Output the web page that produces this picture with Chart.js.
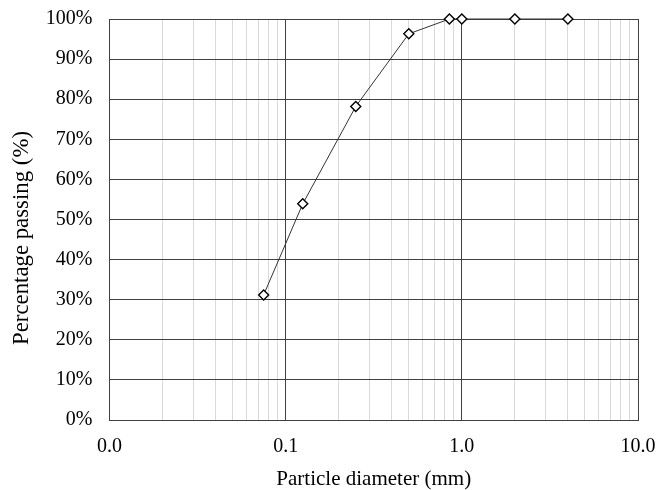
<!DOCTYPE html>
<html>
<head>
<meta charset="utf-8">
<script src="https://cdn.jsdelivr.net/npm/chart.js@4"></script>
<style>
  html, body { margin: 0; padding: 0; background: #fff; }
  #wrap { width: 659px; height: 490px; }
</style>
</head>
<body>
<div id="wrap"><canvas id="gradationChart" width="659" height="490"></canvas></div>
<script>
// sieve sizes (mm) and percentage passing
const sieveSizes = [0.075, 0.125, 0.25, 0.5, 0.85, 1.0, 2.0, 4.0];
const passing = [31.2, 53.9, 78.2, 96.3, 100, 100, 100, 100];

// log axis: decades get a label, 2..9 of each decade only a light gridline
const decades = [0.01, 0.1, 1, 10];
const minorSteps = [2, 3, 4, 5, 6, 7, 8, 9];
const yTicks = [0, 10, 20, 30, 40, 50, 60, 70, 80, 90, 100];

const xTitle = 'Particle diameter (mm)';
const yTitle = 'Percentage passing (%)';

const fontFamily = "'Liberation Serif', 'Times New Roman', serif";

function isDecade(v) {
    const l = Math.log10(v);
    return Math.abs(l - Math.round(l)) < 1e-6;
}

const gridValues = [];
decades.forEach((d, i) => {
    gridValues.push(d);
    if (i < decades.length - 1) {
        minorSteps.forEach(m => gridValues.push(+(d * m).toPrecision(3)));
    }
});

// y axis title sits a bit below the middle of the plot, drawn by hand
const yTitlePlugin = {
    id: 'yTitle',
    afterDraw(chart) {
        const ctx = chart.ctx;
        ctx.save();
        ctx.font = '22.8px ' + fontFamily;
        ctx.fillStyle = '#000';
        ctx.textAlign = 'center';
        ctx.textBaseline = 'middle';
        ctx.translate(22, 238);
        ctx.rotate(-Math.PI / 2);
        ctx.fillText(yTitle, 0, 0);
        ctx.restore();
    }
};

// labels may hang over the plot edges, so the scales ask for no extra room
function noOverhang(scale) {
    scale.paddingTop = 0;
    scale.paddingBottom = 0;
    scale.paddingLeft = 0;
    scale.paddingRight = 0;
}

const ctx = document.getElementById('gradationChart').getContext('2d');

new Chart(ctx, {
    type: 'scatter',
    data: {
        datasets: [{
            data: sieveSizes.map((s, i) => ({ x: s, y: passing[i] })),
            showLine: true,
            borderColor: '#333',
            borderWidth: 1,
            pointStyle: 'rectRot',
            pointRadius: 5,
            pointBackgroundColor: '#fff',
            pointBorderColor: '#000',
            pointBorderWidth: 1.4,
            clip: false
        }]
    },
    options: {
        responsive: false,
        animation: false,
        layout: { padding: { top: 19, right: 21, left: 0, bottom: 0 } },
        plugins: {
            legend: { display: false },
            tooltip: { enabled: false }
        },
        scales: {
            x: {
                type: 'logarithmic',
                min: 0.01,
                max: 10,
                afterBuildTicks(scale) {
                    scale.ticks = gridValues.map(v => ({ value: v, major: isDecade(v) }));
                },
                afterFit(scale) {
                    scale.height = 70;
                    noOverhang(scale);
                },
                ticks: {
                    autoSkip: false,
                    maxRotation: 0,
                    padding: 15,
                    color: '#000',
                    font: { family: fontFamily, size: 20 },
                    callback: function(value) {
                        return isDecade(value) ? value.toFixed(1) : '';
                    }
                },
                grid: {
                    drawTicks: false,
                    color: c => isDecade(c.tick.value) ? '#404040' : '#d9d9d9',
                    lineWidth: 1
                },
                border: { color: '#404040', width: 1 },
                title: {
                    display: true,
                    text: xTitle,
                    color: '#000',
                    font: { family: fontFamily, size: 21, lineHeight: 1 },
                    padding: { top: 0, bottom: 0 }
                }
            },
            y: {
                min: 0,
                max: 100,
                afterBuildTicks(scale) {
                    scale.ticks = yTicks.map(v => ({ value: v }));
                },
                afterFit(scale) {
                    scale.width = 109.5;
                    noOverhang(scale);
                },
                ticks: {
                    padding: 17,
                    color: '#000',
                    font: { family: fontFamily, size: 20 },
                    callback: v => v + '%'
                },
                grid: {
                    drawTicks: false,
                    color: '#404040',
                    lineWidth: 1
                },
                border: { color: '#404040', width: 1 }
            }
        }
    },
    plugins: [yTitlePlugin]
});
</script>
</body>
</html>
